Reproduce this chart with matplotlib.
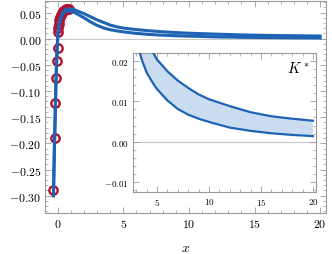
import numpy as np
import matplotlib.pyplot as plt
from matplotlib.ticker import MultipleLocator, FuncFormatter

plt.rcParams['mathtext.fontset'] = 'cm'
plt.rcParams['font.family'] = 'serif'
plt.rcParams['font.serif'] = ['DejaVu Serif']

# curve data (two edges of the band)
x = [-0.33, -0.25, -0.2, -0.15, -0.1, -0.05, 0, 0.1, 0.2, 0.35, 0.5, 0.75, 1.0,
     1.25, 1.5, 2, 2.5, 3, 3.5, 4, 4.65, 5, 6, 7, 8, 9, 10, 12, 14, 16, 18, 20]
upper = [-0.30, -0.20, -0.15, -0.095, -0.052, -0.02, 0.006, 0.027, 0.039, 0.049,
         0.054, 0.057, 0.057, 0.0555, 0.053, 0.048, 0.042, 0.036, 0.031, 0.026,
         0.0219, 0.0203, 0.0174, 0.0151, 0.0133, 0.0117, 0.0105, 0.0088, 0.0073,
         0.0063, 0.0057, 0.0052]
lower = [-0.30, -0.20, -0.15, -0.095, -0.052, -0.02, 0.005, 0.025, 0.036, 0.046,
         0.051, 0.053, 0.053, 0.0505, 0.047, 0.040, 0.032, 0.0255, 0.0205, 0.0171,
         0.0143, 0.0130, 0.0102, 0.0081, 0.0067, 0.0057, 0.0049, 0.0035, 0.0027,
         0.0021, 0.0017, 0.0014]

# data points (red circles)
px = [-0.33, -0.2, -0.2, -0.15, -0.08, -0.02, 0.02, 0.05, 0.08, 0.12, 0.18, 0.25,
      0.33, 0.42, 0.52, 0.62, 0.72, 0.82]
py = [-0.29, -0.19, -0.122, -0.075, -0.043, -0.018, 0.013, 0.02, 0.028, 0.035,
      0.041, 0.046, 0.050, 0.053, 0.055, 0.056, 0.057, 0.057]

blue = '#1f63b5'
red = '#b3112c'
gray = '#9a9a9a'


def fmt(d):
    return FuncFormatter(lambda v, p: r'$%s$' % (('%.' + str(d) + 'f') % v))


def style(ax, lsize):
    for s in ax.spines.values():
        s.set_color(gray)
        s.set_linewidth(0.8)
    ax.tick_params(which='both', direction='in', top=True, right=True, color=gray,
                   labelsize=lsize, pad=3)
    ax.tick_params(which='major', length=4, width=0.6)
    ax.tick_params(which='minor', length=2, width=0.5)


fig = plt.figure(figsize=(3.32, 2.55), dpi=100)
ax = fig.add_axes([0.1365, 0.161, 0.8455, 0.831])
ax.axhline(0, color='#c8c8c8', lw=0.8, zorder=1)
ax.plot(px, py, 'o', ms=6, mfc='none', mec=red, mew=1.7, zorder=2)
ax.plot(x, upper, color=blue, lw=2.2, zorder=3)
ax.plot(x, lower, color=blue, lw=2.2, zorder=3)
ax.set_xlim(-0.95, 20.45)
ax.set_ylim(-0.333, 0.072)
ax.xaxis.set_major_locator(MultipleLocator(5))
ax.xaxis.set_minor_locator(MultipleLocator(1))
ax.yaxis.set_major_locator(MultipleLocator(0.05))
ax.yaxis.set_minor_locator(MultipleLocator(0.01))
ax.xaxis.set_major_formatter(fmt(0))
ax.yaxis.set_major_formatter(fmt(2))
style(ax, 8.5)
ax.set_xlabel(r'$x$', fontsize=10, labelpad=7)
fig.text(0.004, 0.6, r'$K^*$', rotation=90, ha='right', va='center', fontsize=10)

ins = fig.add_axes([0.4006, 0.243, 0.551, 0.545])
ins.set_facecolor('white')
ins.axhline(0, color='#c8c8c8', lw=0.8, zorder=1)
ins.fill_between(x, lower, upper, color='#c9dcf0', lw=0, zorder=2)
ins.plot(x, upper, color=blue, lw=1.6, zorder=3)
ins.plot(x, lower, color=blue, lw=1.6, zorder=3)
ins.set_xlim(2.69, 20.29)
ins.set_ylim(-0.0124, 0.0219)
ins.xaxis.set_major_locator(MultipleLocator(5))
ins.xaxis.set_minor_locator(MultipleLocator(1))
ins.yaxis.set_major_locator(MultipleLocator(0.01))
ins.yaxis.set_minor_locator(MultipleLocator(0.002))
ins.xaxis.set_major_formatter(fmt(0))
ins.yaxis.set_major_formatter(fmt(2))
style(ins, 6.5)
ins.text(0.965, 0.95, r'$K^*$', transform=ins.transAxes, ha='right', va='top', fontsize=10.5)

fig.savefig('out.png', dpi=100)
